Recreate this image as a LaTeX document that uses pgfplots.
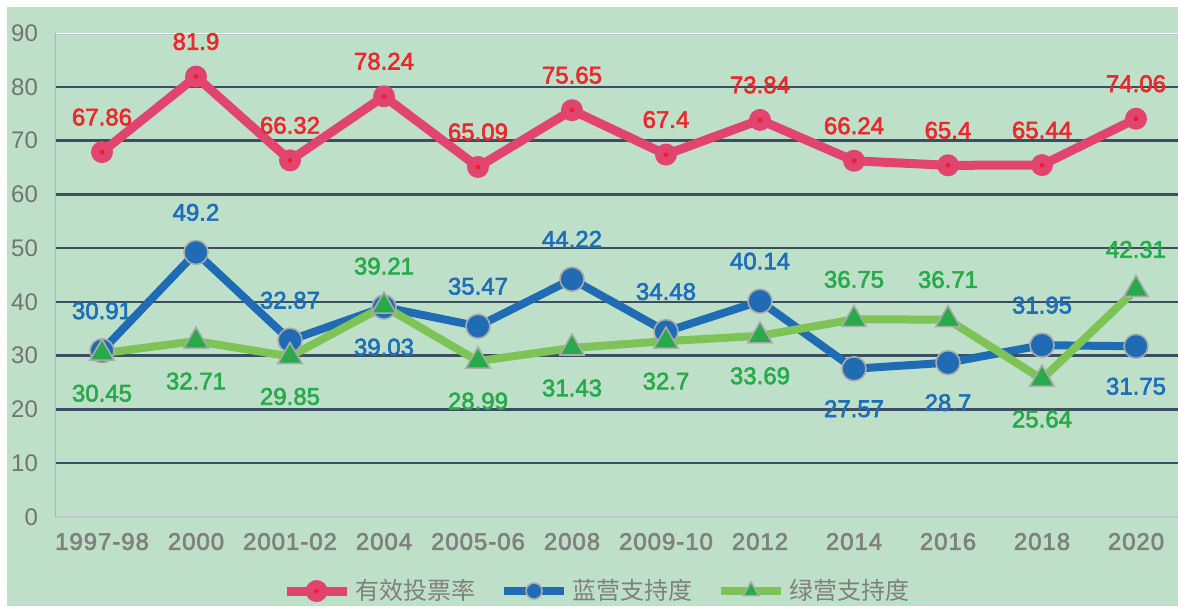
\documentclass[border=0pt]{standalone}
\usepackage{pgfplots}
\pgfplotsset{compat=1.18}
\usepackage{pgfplotstable}
\usepackage{fontspec}
\setmainfont{Liberation Sans}
\newfontfamily\semib{Liberation Sans}[FakeBold=2.5]
\newfontfamily\semibsp{Liberation Sans}[FakeBold=2.5, LetterSpace=4]
\newfontfamily\cjk{Noto Sans CJK SC}
\definecolor{pinkc}{RGB}{226,68,112}
\definecolor{reddot}{RGB}{240,30,40}
\definecolor{bluec}{RGB}{31,108,180}
\definecolor{greenl}{RGB}{125,195,85}
\definecolor{greenm}{RGB}{40,170,75}
\definecolor{redlab}{RGB}{235,40,45}
\definecolor{bluelab}{RGB}{30,110,185}
\definecolor{greenlab}{RGB}{40,170,75}
\definecolor{gridc}{RGB}{62,78,98}
\definecolor{grayt}{RGB}{128,128,128}
\definecolor{bgc}{RGB}{190,224,201}
\definecolor{edgec}{RGB}{170,170,170}
\definecolor{topc}{RGB}{190,195,205}
\definecolor{botc}{RGB}{200,195,212}
\definecolor{leftc}{RGB}{165,180,225}

\pgfdeclareplotmark{pinkdot}{%
  \pgfsetfillcolor{pinkc}%
  \pgfpathcircle{\pgfpointorigin}{\pgfplotmarksize}\pgfusepathqfill
  \pgfsetfillcolor{reddot}%
  \pgfpathcircle{\pgfpointorigin}{1.2pt}\pgfusepathqfill}

\pgfplotstableread{
x y off lab
0 67.86 17.5 67.86
1 81.9 17.5 81.9
2 66.32 17.5 66.32
3 78.24 17.5 78.24
4 65.09 17.5 65.09
5 75.65 17.5 75.65
6 67.4 17.5 67.4
7 73.84 17.5 73.84
8 66.24 17.5 66.24
9 65.4 17.5 65.4
10 65.44 17.5 65.44
11 74.06 17.5 74.06
}\tvote

\pgfplotstableread{
x y off lab
0 30.91 20 30.91
1 49.2 20 49.2
2 32.87 20 32.87
3 39.03 -20 39.03
4 35.47 20 35.47
5 44.22 20 44.22
6 34.48 20 34.48
7 40.14 20 40.14
8 27.57 -20 27.57
9 28.7 -20 28.7
10 31.95 20 31.95
11 31.75 -20 31.75
}\tblue

\pgfplotstableread{
x y off lab
0 30.45 -20 30.45
1 32.71 -20 32.71
2 29.85 -20 29.85
3 39.21 20 39.21
4 28.99 -20 28.99
5 31.43 -20 31.43
6 32.7 -20 32.7
7 33.69 -20 33.69
8 36.75 20 36.75
9 36.71 20 36.71
10 25.64 -20 25.64
11 42.31 20 42.31
}\tgreen

\begin{document}
\begin{tikzpicture}
\useasboundingbox (0,0) rectangle (589pt,303pt);
\clip (0,0) rectangle (589pt,303pt);
\fill[white] (0,0) rectangle (589pt,303pt);
\fill[bgc] (3.5pt,0) rectangle (589pt,299.5pt);
\begin{axis}[
  at={(27.5pt,44.5pt)}, anchor=south west,
  scale only axis, width=564pt, height=242pt,
  xmin=-0.5, xmax=11.5, ymin=0, ymax=90,
  axis line style={draw=none},
  major tick length=0pt,
  xtick={0,...,11},
  xticklabels={1997-98,2000,2001-02,2004,2005-06,2008,2009-10,2012,2014,2016,2018,2020},
  ytick={0,10,...,90},
  /pgf/number format/assume math mode=true,
  yticklabel style={font=\fontsize{12}{14}\selectfont, text=grayt!110, xshift=-5pt},
  xticklabel style={font=\semibsp\fontsize{12}{14}\selectfont, text=grayt, yshift=-4.5pt},
  extra y ticks={10,20,...,80},
  extra y tick labels={},
  extra tick style={grid=major, major grid style={color=gridc, line width=1.2pt}},
  legend style={at={(0.481,-0.153)}, anchor=center, legend columns=3, draw=none, fill=none,
    font=\cjk\fontsize{12}{14}\selectfont, text=grayt,
    /tikz/every even column/.append style={column sep=10.5pt}},
  legend image code/.code={\draw[mark repeat=2, mark phase=2] plot coordinates {(0pt,0pt) (15pt,0pt) (30pt,0pt)};},
  nodes near coords,
  point meta=explicit symbolic,
  visualization depends on={\thisrow{off} \as \myoff},
  every node near coord/.append style={anchor=center, yshift=\myoff pt, font=\semib\fontsize{12}{14}\selectfont},
]
\draw[topc, line width=1.6pt] (rel axis cs:0,1) -- (rel axis cs:1,1);
\draw[white, line width=0.5pt] (rel axis cs:0,1) -- (rel axis cs:1,1);
\draw[botc, line width=1pt] (rel axis cs:0,0) -- (rel axis cs:1,0);
\draw[leftc, line width=0.6pt] (rel axis cs:0,0) -- (rel axis cs:0,1);

\addplot[color=pinkc, line width=4.5pt, mark=pinkdot, mark size=5.5pt,
  every node near coord/.append style={text=redlab}]
  table[x=x, y=y, meta=lab] {\tvote};
\addlegendentry{有效投票率}

\addplot[color=bluec, line width=4pt, mark=*, mark size=6pt,
  mark options={fill=bluec, draw=edgec, line width=0.8pt},
  legend image post style={mark size=4pt},
  every node near coord/.append style={text=bluelab}]
  table[x=x, y=y, meta=lab] {\tblue};
\addlegendentry{蓝营支持度}

\addplot[color=greenl, line width=4pt, mark=triangle*, mark size=7pt,
  mark options={fill=greenm, draw=edgec, line width=0.8pt},
  legend image post style={mark size=4.5pt},
  every node near coord/.append style={text=greenlab}]
  table[x=x, y=y, meta=lab] {\tgreen};
\addlegendentry{绿营支持度}
\end{axis}
\end{tikzpicture}
\end{document}
